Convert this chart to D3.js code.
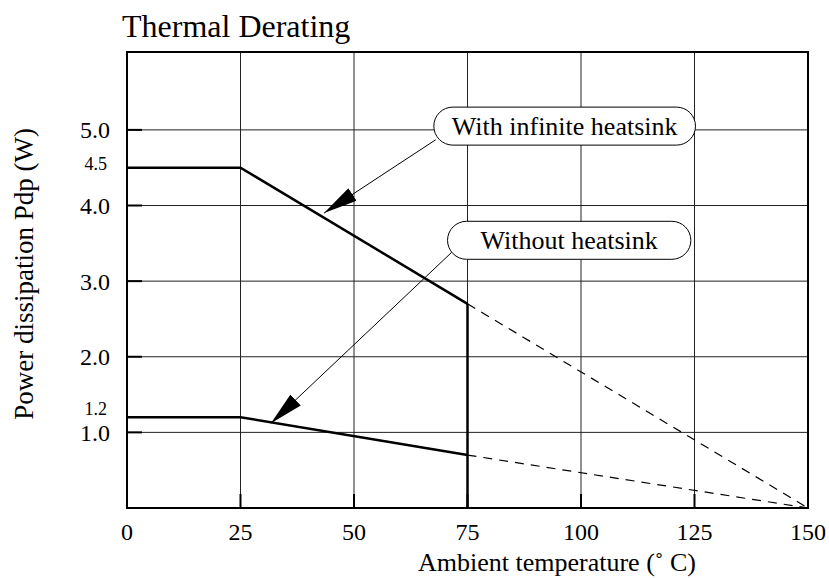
<!DOCTYPE html>
<html>
<head>
<meta charset="utf-8">
<script src="https://cdn.jsdelivr.net/npm/d3@7"></script>
<style>
  body { margin: 0; background: #fff; }
</style>
</head>
<body>
<svg width="829" height="578" font-family="Liberation Serif, serif"></svg>
<script>
// data
var xTicks = [0, 25, 50, 75, 100, 125, 150];
var yTicks = [1.0, 2.0, 3.0, 4.0, 5.0];
var yExtraTicks = [4.5, 1.2];

// with infinite heatsink: solid part, then the dashed extension
var withSink = [[0, 4.5], [25, 4.5], [75, 2.7]];
var withSinkDash = [[75, 2.7], [150, 0]];
var withSinkDrop = [[75, 2.7], [75, 0]];

// without heatsink
var noSink = [[0, 1.2], [25, 1.2], [75, 0.7]];
var noSinkDash = [[75, 0.7], [150, 0]];

// callouts: label, label centre, arrow start, arrow tip (data units), side padding
var callouts = [
  { label: "With infinite heatsink", at: [96.4, 5.05], from: [68, 4.87], to: [43.4, 3.9], pad: 18 },
  { label: "Without heatsink", at: [97.4, 3.54], from: [71.5, 3.38], to: [31.7, 1.12], pad: 33 }
];

var svg = d3.select("svg"),
    margin = {top: 52, right: 21, bottom: 70, left: 127},
    width = +svg.attr("width") - margin.left - margin.right,
    height = +svg.attr("height") - margin.top - margin.bottom,
    g = svg.append("g").attr("transform", "translate(" + margin.left + "," + margin.top + ")");

var x = d3.scaleLinear().domain([0, 150]).range([0, width]);
var y = d3.scaleLinear().domain([0, 6.03]).range([height, 0]);

var line = d3.line()
    .x(function(d) { return x(d[0]); })
    .y(function(d) { return y(d[1]); });

// grid
g.append("g").selectAll("line")
  .data(xTicks.slice(1, -1))
  .enter().append("line")
    .attr("x1", function(d) { return x(d); })
    .attr("x2", function(d) { return x(d); })
    .attr("y1", 0).attr("y2", height)
    .attr("stroke", "#222").attr("stroke-width", 1);

g.append("g").selectAll("line")
  .data(yTicks)
  .enter().append("line")
    .attr("x1", 0).attr("x2", width)
    .attr("y1", function(d) { return y(d); })
    .attr("y2", function(d) { return y(d); })
    .attr("stroke", "#222").attr("stroke-width", 1);

// inner tick marks
g.append("g").selectAll("line")
  .data(yTicks)
  .enter().append("line")
    .attr("x1", 0).attr("x2", 15)
    .attr("y1", function(d) { return y(d); })
    .attr("y2", function(d) { return y(d); })
    .attr("stroke", "#000").attr("stroke-width", 2);

g.append("g").selectAll("line")
  .data(xTicks.slice(1, -1))
  .enter().append("line")
    .attr("x1", function(d) { return x(d); })
    .attr("x2", function(d) { return x(d); })
    .attr("y1", height - 14).attr("y2", height)
    .attr("stroke", "#000").attr("stroke-width", 2);

// frame
g.append("rect")
  .attr("width", width).attr("height", height)
  .attr("fill", "none").attr("stroke", "#000").attr("stroke-width", 2);

// curves
g.append("path").datum(withSinkDash).attr("d", line)
  .attr("fill", "none").attr("stroke", "#000").attr("stroke-width", 1.2)
  .attr("stroke-dasharray", "9,7");
g.append("path").datum(noSinkDash).attr("d", line)
  .attr("fill", "none").attr("stroke", "#000").attr("stroke-width", 1.2)
  .attr("stroke-dasharray", "9,7");

[withSink, withSinkDrop, noSink].forEach(function(d) {
  g.append("path").datum(d).attr("d", line)
    .attr("fill", "none").attr("stroke", "#000").attr("stroke-width", 2.5);
});

// arrow head
svg.append("defs").append("marker")
    .attr("id", "head")
    .attr("viewBox", "0 0 10 10")
    .attr("preserveAspectRatio", "none")
    .attr("refX", 10).attr("refY", 5)
    .attr("markerWidth", 34).attr("markerHeight", 15)
    .attr("markerUnits", "userSpaceOnUse")
    .attr("orient", "auto")
  .append("path")
    .attr("d", "M0,0L10,5L0,10Z")
    .attr("fill", "#000");

var call = g.selectAll(".callout")
  .data(callouts)
  .enter().append("g")
    .attr("class", "callout");

call.append("line")
    .attr("x1", function(d) { return x(d.from[0]); })
    .attr("y1", function(d) { return y(d.from[1]); })
    .attr("x2", function(d) { return x(d.to[0]); })
    .attr("y2", function(d) { return y(d.to[1]); })
    .attr("stroke", "#000").attr("stroke-width", 1)
    .attr("marker-end", "url(#head)");

var lbl = call.append("text")
    .attr("x", function(d) { return x(d.at[0]); })
    .attr("y", function(d) { return y(d.at[1]); })
    .attr("dy", "0.34em")
    .attr("text-anchor", "middle")
    .attr("font-size", 26)
    .text(function(d) { return d.label; });

lbl.each(function(d) {
  var b = this.getBBox();
  d3.select(this.parentNode).insert("rect", "text")
    .attr("x", b.x - d.pad).attr("y", y(d.at[1]) - 19)
    .attr("width", b.width + 2 * d.pad).attr("height", 38)
    .attr("rx", 19)
    .attr("fill", "#fff").attr("stroke", "#000").attr("stroke-width", 1);
});

// tick labels
g.append("g").selectAll("text")
  .data(xTicks)
  .enter().append("text")
    .attr("x", function(d) { return x(d); })
    .attr("y", height + 32)
    .attr("text-anchor", "middle")
    .attr("font-size", 24)
    .text(function(d) { return d; });

g.append("g").selectAll("text")
  .data(yTicks)
  .enter().append("text")
    .attr("x", -17)
    .attr("y", function(d) { return y(d); })
    .attr("dy", "0.35em")
    .attr("text-anchor", "end")
    .attr("font-size", 24)
    .text(function(d) { return d.toFixed(1); });

g.append("g").selectAll("text")
  .data(yExtraTicks)
  .enter().append("text")
    .attr("x", -20)
    .attr("y", function(d) { return y(d); })
    .attr("dy", function(d, i) { return i == 0 ? "0.1em" : "-0.1em"; })
    .attr("text-anchor", "end")
    .attr("font-size", 18)
    .text(function(d) { return d.toFixed(1); });

// titles
svg.append("text")
  .attr("x", 122).attr("y", 37)
  .attr("font-size", 32)
  .text("Thermal Derating");

svg.append("text")
  .attr("x", 418).attr("y", 571)
  .attr("font-size", 26)
  .text("Ambient temperature (\u02DA C)");

svg.append("text")
  .attr("transform", "translate(33,274) rotate(-90)")
  .attr("text-anchor", "middle")
  .attr("font-size", 27)
  .text("Power dissipation Pdp (W)");
</script>
</body>
</html>
